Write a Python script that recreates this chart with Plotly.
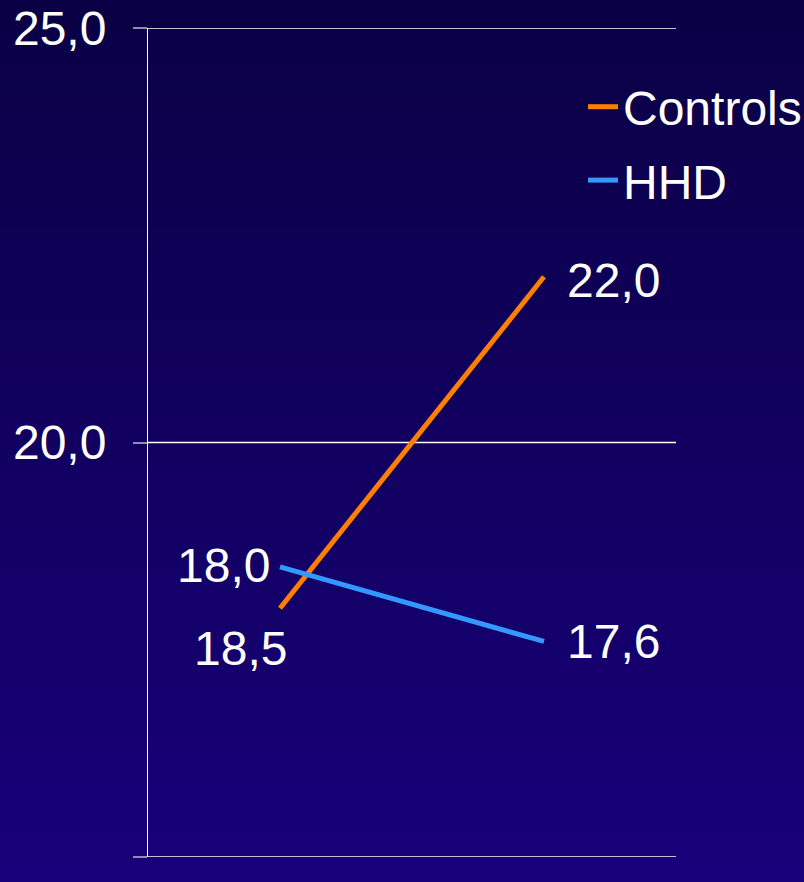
import plotly.graph_objects as go

# Measurements at the two time points
timepoints = [0, 1]
controls = [18.0, 22.0]
hhd = [18.5, 17.6]

# Value labels as printed next to each series' points
controls_labels = ["18,5", "22,0"]
hhd_labels = ["18,0", "17,6"]

y_ticks = [15, 20, 25]

FONT = "Liberation Sans, Arial, sans-serif"
FS = 48
W, H = 804, 882
M_L, M_R, M_T, M_B = 148, 128, 28, 25
PLOT_W = W - M_L - M_R
PLOT_H = H - M_T - M_B

fig = go.Figure()

fig.add_trace(go.Scatter(
    x=timepoints, y=controls, mode="lines", name="Controls",
    line=dict(color="#ff7f00", width=5), legendgroup="c",
))
fig.add_trace(go.Scatter(
    x=timepoints, y=hhd, mode="lines", name="HHD",
    line=dict(color="#3399ff", width=5), legendgroup="h",
))

# Vertical background gradient (dark navy to indigo) built from thin strips
top_rgb = (10, 0, 69)
bot_rgb = (24, 0, 122)
n_strips = 90
shapes = []
for i in range(n_strips):
    t = i / (n_strips - 1)
    r, g, b = (round(a + (c - a) * t) for a, c in zip(top_rgb, bot_rgb))
    p0 = i * H / n_strips
    p1 = (i + 1) * H / n_strips + 1
    shapes.append(dict(
        type="rect", xref="paper", yref="paper", layer="below",
        x0=-M_L / PLOT_W - 0.01, x1=1 + M_R / PLOT_W + 0.01,
        y0=(H - M_B - p1) / PLOT_H, y1=(H - M_B - p0) / PLOT_H,
        fillcolor=f"rgb({r},{g},{b})", line=dict(width=0),
    ))

# Horizontal grid lines at every tick value, including the range ends
for v in y_ticks:
    shapes.append(dict(
        type="line", xref="paper", yref="y", layer="below",
        x0=0, x1=1, y0=v, y1=v,
        line=dict(color="white", width=1.6),
    ))

# Value labels placed beside their points
ann_font = dict(family=FONT, size=FS, color="white")
annotations = [
    dict(x=timepoints[0], y=controls[0], text=controls_labels[0], showarrow=False,
         xanchor="right", yanchor="middle", xshift=9, yshift=-40, font=ann_font),
    dict(x=timepoints[1], y=controls[1], text=controls_labels[1], showarrow=False,
         xanchor="left", yanchor="middle", xshift=21, yshift=-4, font=ann_font),
    dict(x=timepoints[0], y=hhd[0], text=hhd_labels[0], showarrow=False,
         xanchor="right", yanchor="middle", xshift=-8, yshift=1, font=ann_font),
    dict(x=timepoints[1], y=hhd[1], text=hhd_labels[1], showarrow=False,
         xanchor="left", yanchor="middle", xshift=21, yshift=0, font=ann_font),
]

fig.update_layout(
    width=W, height=H,
    margin=dict(l=M_L, r=M_R, t=M_T, b=M_B, autoexpand=False),
    paper_bgcolor="rgb(17,0,95)",
    plot_bgcolor="rgba(0,0,0,0)",
    separators=",.",
    font=dict(family=FONT, size=FS, color="white"),
    shapes=shapes,
    annotations=annotations,
    showlegend=True,
    legend=dict(
        x=(583 - M_L) / PLOT_W, y=(H - M_B - 69) / PLOT_H,
        xanchor="left", yanchor="top",
        bgcolor="rgba(0,0,0,0)", borderwidth=0,
        font=dict(family=FONT, size=FS, color="white"),
        traceorder="grouped", tracegroupgap=8,
    ),
    xaxis=dict(
        range=[-0.5, 1.5], showgrid=False, zeroline=False,
        showline=False, showticklabels=False, ticks="",
        automargin=False,
    ),
    yaxis=dict(
        range=[15, 25], tickvals=y_ticks, tickformat=".1f",
        showgrid=False, automargin=False,
        zeroline=False, showline=True, linecolor="white", linewidth=1,
        ticks="outside", ticklen=14, tickwidth=2, tickcolor="#8f8bbd",
        ticklabelstandoff=17,
        tickfont=dict(family=FONT, size=FS, color="white"),
    ),
)

fig.write_html("out.html")
